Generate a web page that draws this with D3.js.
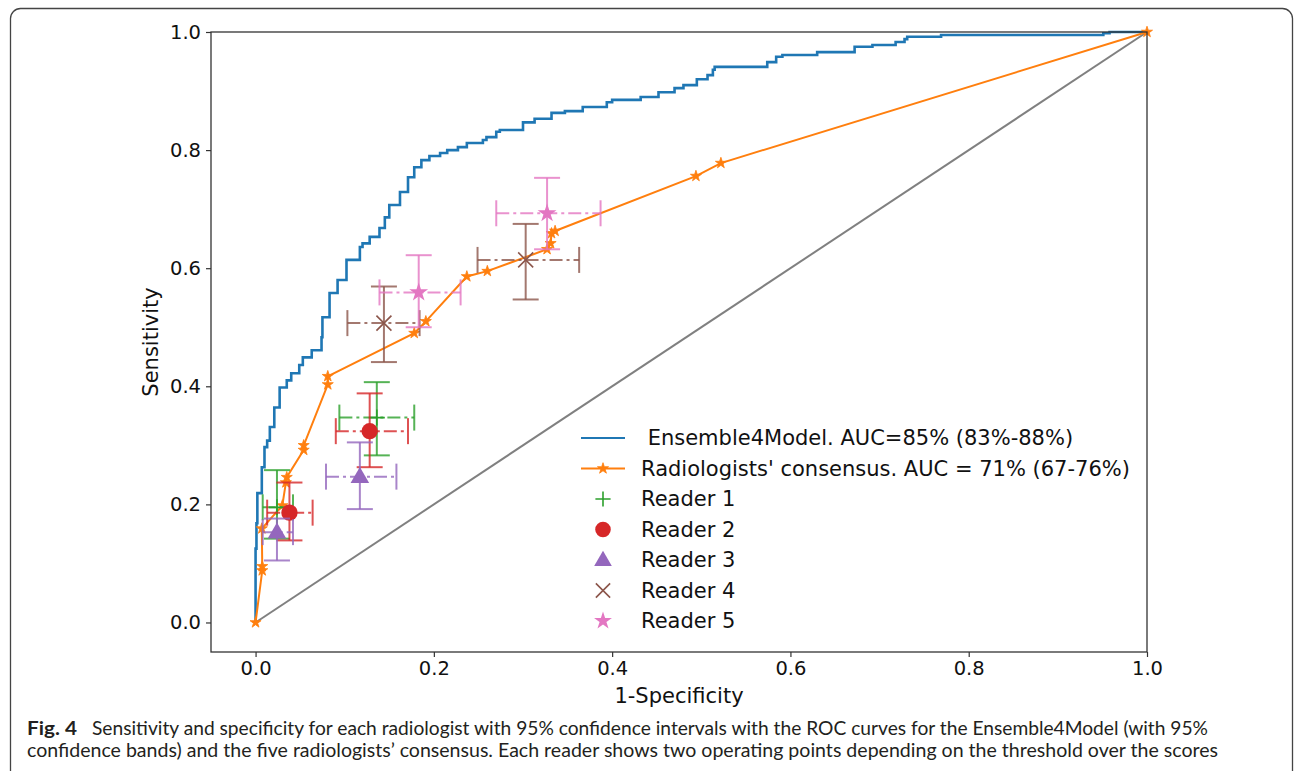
<!DOCTYPE html>
<html>
<head>
<meta charset="utf-8">
<script src="https://cdn.jsdelivr.net/npm/d3@7"></script>
<style>
  html, body { margin: 0; padding: 0; background: #fff; }
  svg { display: block; }
</style>
</head>
<body>
<svg id="chart" width="1295" height="771"></svg>
<script>
// ---------------- DATA ----------------
const modelFpr = [0, 0, 0.001, 0.002, 0.007, 0.010, 0.013, 0.016, 0.021, 0.027, 0.035, 0.040, 0.049, 0.053, 0.063, 0.074, 0.075, 0.083, 0.092, 0.102, 0.117, 0.120, 0.128, 0.139, 0.145, 0.150, 0.162, 0.171, 0.178, 0.186, 0.195, 0.207, 0.215, 0.227, 0.237, 0.255, 0.259, 0.270, 0.274, 0.300, 0.313, 0.332, 0.347, 0.367, 0.394, 0.400, 0.432, 0.452, 0.470, 0.480, 0.495, 0.507, 0.513, 0.515, 0.574, 0.584, 0.591, 0.630, 0.672, 0.692, 0.718, 0.728, 0.731, 0.769, 0.951, 0.958, 1.0];
const modelTpr = [0, 0.125, 0.168, 0.219, 0.263, 0.297, 0.308, 0.331, 0.364, 0.398, 0.410, 0.422, 0.436, 0.449, 0.461, 0.483, 0.517, 0.558, 0.580, 0.614, 0.636, 0.642, 0.653, 0.668, 0.686, 0.707, 0.729, 0.754, 0.771, 0.783, 0.790, 0.795, 0.800, 0.805, 0.812, 0.817, 0.822, 0.831, 0.834, 0.847, 0.853, 0.863, 0.866, 0.873, 0.881, 0.885, 0.890, 0.898, 0.905, 0.910, 0.920, 0.927, 0.936, 0.941, 0.949, 0.958, 0.961, 0.966, 0.975, 0.978, 0.983, 0.988, 0.992, 0.995, 0.998, 1.0, 1.0];

const consFpr = [0, 0.0075, 0.0075, 0.007, 0.030, 0.034, 0.035, 0.054, 0.054, 0.081, 0.081, 0.178, 0.191, 0.237, 0.260, 0.327, 0.331, 0.332, 0.336, 0.494, 0.522, 1.0];
const consTpr = [0, 0.088, 0.095, 0.159, 0.198, 0.237, 0.246, 0.292, 0.300, 0.403, 0.417, 0.490, 0.510, 0.586, 0.595, 0.632, 0.642, 0.659, 0.663, 0.756, 0.778, 1.0];

const readerNames  = ["Reader 1", "Reader 2", "Reader 3", "Reader 4", "Reader 5"];
const readerFpr    = [[0.136, 0.024], [0.128, 0.038], [0.117, 0.024], [0.144, 0.303], [0.183, 0.327]];
const readerFprLo  = [[0.094, 0.008], [0.090, 0.013], [0.079, 0.008], [0.103, 0.249], [0.139, 0.270]];
const readerFprHi  = [[0.178, 0.042], [0.171, 0.064], [0.158, 0.042], [0.184, 0.363], [0.230, 0.387]];
const readerTpr    = [[0.347, 0.195], [0.324, 0.186], [0.247, 0.153], [0.507, 0.614], [0.559, 0.693]];
const readerTprLo  = [[0.283, 0.142], [0.263, 0.139], [0.192, 0.105], [0.441, 0.547], [0.500, 0.632]];
const readerTprHi  = [[0.407, 0.258], [0.388, 0.237], [0.305, 0.176], [0.569, 0.675], [0.622, 0.753]];

const seriesLabels = [" Ensemble4Model. AUC=85% (83%-88%)", "Radiologists' consensus. AUC = 71% (67-76%)"];
const tickValues = [0, 0.2, 0.4, 0.6, 0.8, 1.0];
const xLabel = "1-Specificity";
const yLabel = "Sensitivity";
const captionBold = "Fig. 4";
const captionLine1 = "Sensitivity and specificity for each radiologist with 95% confidence intervals with the ROC curves for the Ensemble4Model (with 95%";
const captionLine2 = "confidence bands) and the five radiologists\u2019 consensus. Each reader shows two operating points depending on the threshold over the scores";

// ---------------- STYLE ----------------
const C_BLUE = "#1f77b4", C_ORANGE = "#ff7f0e";
const readerColors = ["#2ca02c", "#d62728", "#9467bd", "#8c564b", "#e377c2"];
const readerShapes = ["plus", "circle", "triangle", "x", "star"];
const FONT = "'DejaVu Sans', sans-serif";

const svg = d3.select("#chart");
const L = 211, R = 1147, T = 32, B = 652;
const x = d3.scaleLinear().domain([-0.05, 1.0]).range([L, R]);
const y = d3.scaleLinear().domain([-0.05, 1.0]).range([B, T]);

// outer frame (figure box)
svg.append("rect")
  .attr("x", 10.5).attr("y", 8.5).attr("width", 1282).attr("height", 790)
  .attr("rx", 10).attr("ry", 10)
  .attr("fill", "none").attr("stroke", "#444").attr("stroke-width", 1.3);

const plot = svg.append("g");

// chance diagonal
plot.append("line")
  .attr("x1", x(0)).attr("y1", y(0)).attr("x2", x(1)).attr("y2", y(1))
  .attr("stroke", "#808080").attr("stroke-width", 2);

// model ROC (step)
const modelPts = modelFpr.map((f, i) => [f, modelTpr[i]]);
plot.append("path")
  .datum(modelPts)
  .attr("d", d3.line().x(d => x(d[0])).y(d => y(d[1])).curve(d3.curveStepAfter))
  .attr("fill", "none").attr("stroke", C_BLUE).attr("stroke-width", 2.6)
  .attr("stroke-linejoin", "miter");

// consensus ROC
const consPts = consFpr.map((f, i) => [f, consTpr[i]]);
plot.append("path")
  .datum(consPts)
  .attr("d", d3.line().x(d => x(d[0])).y(d => y(d[1])))
  .attr("fill", "none").attr("stroke", C_ORANGE).attr("stroke-width", 2);
const starSmall = d3.symbol().type(d3.symbolStar).size(38);
plot.selectAll(".cstar").data(consPts).enter().append("path")
  .attr("transform", d => `translate(${x(d[0])},${y(d[1])})`)
  .attr("d", starSmall())
  .attr("fill", C_ORANGE).attr("stroke", C_ORANGE).attr("stroke-width", 0.8);

// marker drawing helper
function drawMarker(g, shape, color, cx, cy, scale) {
  const s = scale || 1;
  if (shape === "plus") {
    const h = 8 * s;
    g.append("path").attr("d", `M${cx - h},${cy}H${cx + h}M${cx},${cy - h}V${cy + h}`)
      .attr("stroke", color).attr("stroke-width", 1.6).attr("fill", "none");
  } else if (shape === "x") {
    const h = 7.5 * s;
    g.append("path").attr("d", `M${cx - h},${cy - h}L${cx + h},${cy + h}M${cx - h},${cy + h}L${cx + h},${cy - h}`)
      .attr("stroke", color).attr("stroke-width", 1.6).attr("fill", "none");
  } else if (shape === "circle") {
    g.append("path").attr("transform", `translate(${cx},${cy})`)
      .attr("d", d3.symbol().type(d3.symbolCircle).size(210 * s * s)())
      .attr("fill", color);
  } else if (shape === "triangle") {
    g.append("path").attr("transform", `translate(${cx},${cy + 1})`)
      .attr("d", d3.symbol().type(d3.symbolTriangle).size(150 * s * s)())
      .attr("fill", color);
  } else if (shape === "star") {
    g.append("path").attr("transform", `translate(${cx},${cy})`)
      .attr("d", d3.symbol().type(d3.symbolStar).size(110 * s * s)())
      .attr("fill", color);
  }
}

// readers with error bars
const CAP = 13;
readerNames.forEach((name, r) => {
  const col = readerColors[r];
  const g = plot.append("g");
  for (let k = 0; k < 2; k++) {
    const cx = x(readerFpr[r][k]), cy = y(readerTpr[r][k]);
    const xl = x(readerFprLo[r][k]), xh = x(readerFprHi[r][k]);
    const yl = y(readerTprLo[r][k]), yh = y(readerTprHi[r][k]);
    const eb = g.append("g").attr("stroke", col).attr("stroke-width", 2).attr("stroke-opacity", 0.8).attr("fill", "none");
    eb.append("line").attr("x1", xl).attr("x2", xh).attr("y1", cy).attr("y2", cy)
      .attr("stroke-dasharray", "13,4,3,4");
    eb.append("line").attr("x1", xl).attr("x2", xl).attr("y1", cy - CAP).attr("y2", cy + CAP);
    eb.append("line").attr("x1", xh).attr("x2", xh).attr("y1", cy - CAP).attr("y2", cy + CAP);
    eb.append("line").attr("x1", cx).attr("x2", cx).attr("y1", yl).attr("y2", yh);
    eb.append("line").attr("x1", cx - CAP).attr("x2", cx + CAP).attr("y1", yl).attr("y2", yl);
    eb.append("line").attr("x1", cx - CAP).attr("x2", cx + CAP).attr("y1", yh).attr("y2", yh);
    drawMarker(g, readerShapes[r], col, cx, cy, 1);
  }
});

// axes box
svg.append("rect").attr("x", L).attr("y", T).attr("width", R - L).attr("height", B - T)
  .attr("fill", "none").attr("stroke", "#333").attr("stroke-width", 1.3);

const fmt = d3.format(".1f");
const xAxis = svg.append("g").attr("transform", `translate(0,${B})`)
  .call(d3.axisBottom(x).tickValues(tickValues).tickFormat(fmt).tickSize(5).tickPadding(4));
const yAxis = svg.append("g").attr("transform", `translate(${L},0)`)
  .call(d3.axisLeft(y).tickValues(tickValues).tickFormat(fmt).tickSize(5).tickPadding(5));
[xAxis, yAxis].forEach(a => {
  a.select(".domain").remove();
  a.selectAll("line").attr("stroke", "#333").attr("stroke-width", 1.2);
  a.selectAll("text").attr("font-family", FONT).attr("font-size", 19.5).attr("fill", "#111");
});

svg.append("text").attr("x", (L + R) / 2).attr("y", 703)
  .attr("text-anchor", "middle").attr("font-family", FONT).attr("font-size", 21).attr("fill", "#111")
  .text(xLabel);
svg.append("text").attr("transform", `translate(158,${(T + B) / 2}) rotate(-90)`)
  .attr("text-anchor", "middle").attr("font-family", FONT).attr("font-size", 21).attr("fill", "#111")
  .text(yLabel);

// legend
const legRows = [438, 468.5, 499, 529.5, 560, 590.5, 621];
const lg = svg.append("g").attr("font-family", FONT).attr("font-size", 21).attr("fill", "#111");
lg.append("line").attr("x1", 581).attr("x2", 625).attr("y1", legRows[0]).attr("y2", legRows[0])
  .attr("stroke", C_BLUE).attr("stroke-width", 2.2);
lg.append("text").attr("x", 641).attr("y", legRows[0]).attr("dy", "0.35em")
  .attr("xml:space", "preserve").style("white-space", "pre").text(seriesLabels[0]);
lg.append("line").attr("x1", 581).attr("x2", 625).attr("y1", legRows[1]).attr("y2", legRows[1])
  .attr("stroke", C_ORANGE).attr("stroke-width", 2.2);
lg.append("path").attr("transform", `translate(603,${legRows[1]})`).attr("d", starSmall())
  .attr("fill", C_ORANGE).attr("stroke", C_ORANGE).attr("stroke-width", 0.8);
lg.append("text").attr("x", 641).attr("y", legRows[1]).attr("dy", "0.35em").text(seriesLabels[1]);
readerNames.forEach((name, r) => {
  const yy = legRows[r + 2];
  drawMarker(lg, readerShapes[r], readerColors[r], 603, yy, 0.95);
  lg.append("text").attr("x", 641).attr("y", yy).attr("dy", "0.35em").text(name);
});

// caption
const CF = "Lato, 'Open Sans', sans-serif";
svg.append("text").attr("x", 27).attr("y", 735)
  .attr("font-family", CF).attr("font-weight", "bold").attr("font-size", 19).attr("fill", "#231f20")
  .attr("textLength", 50).attr("lengthAdjust", "spacingAndGlyphs")
  .text(captionBold);
svg.append("text").attr("x", 92).attr("y", 735)
  .attr("font-family", CF).attr("font-size", 19.5).attr("fill", "#231f20")
  .attr("textLength", 1116).attr("lengthAdjust", "spacingAndGlyphs")
  .text(captionLine1);
svg.append("text").attr("x", 27).attr("y", 757)
  .attr("font-family", CF).attr("font-size", 19.5).attr("fill", "#231f20")
  .attr("textLength", 1191).attr("lengthAdjust", "spacingAndGlyphs")
  .text(captionLine2);
</script>
</body>
</html>
